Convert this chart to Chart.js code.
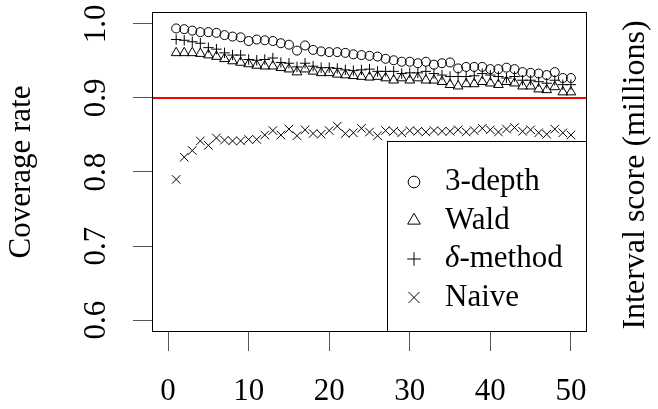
<!DOCTYPE html>
<html><head><meta charset="utf-8">
<script src="https://cdn.jsdelivr.net/npm/chart.js@4/dist/chart.umd.min.js"></script>
<style>html,body{margin:0;padding:0;background:#fff}#wrap{width:658px;height:409px}</style>
</head><body><div id="wrap"><canvas id="c" width="658" height="409"></canvas></div>
<script>
const xValues = [1,2,3,4,5,6,7,8,9,10,11,12,13,14,15,16,17,18,19,20,21,22,23,24,25,26,27,28,29,30,31,32,33,34,35,36,37,38,39,40,41,42,43,44,45,46,47,48,49,50];
const depth3 = [0.994,0.993,0.991,0.989,0.989,0.988,0.985,0.983,0.982,0.977,0.979,0.978,0.977,0.974,0.972,0.964,0.971,0.965,0.963,0.962,0.962,0.961,0.959,0.958,0.957,0.956,0.953,0.951,0.949,0.949,0.947,0.949,0.945,0.947,0.948,0.940,0.942,0.942,0.942,0.939,0.939,0.941,0.939,0.935,0.934,0.933,0.931,0.935,0.927,0.927];
const wald = [0.961,0.961,0.961,0.960,0.958,0.956,0.953,0.950,0.948,0.946,0.944,0.943,0.943,0.941,0.939,0.935,0.939,0.936,0.934,0.934,0.932,0.931,0.930,0.929,0.928,0.929,0.927,0.924,0.927,0.924,0.927,0.924,0.924,0.922,0.918,0.916,0.919,0.919,0.922,0.920,0.918,0.922,0.920,0.916,0.916,0.912,0.911,0.915,0.908,0.908];
const deltaMethod = [0.979,0.978,0.976,0.974,0.968,0.966,0.961,0.958,0.958,0.952,0.951,0.952,0.954,0.948,0.947,0.942,0.947,0.943,0.941,0.941,0.940,0.938,0.937,0.938,0.939,0.936,0.936,0.936,0.933,0.934,0.934,0.936,0.933,0.931,0.929,0.929,0.929,0.930,0.933,0.931,0.929,0.927,0.929,0.924,0.924,0.922,0.920,0.924,0.918,0.918];
const naive = [0.790,0.820,0.829,0.842,0.836,0.846,0.843,0.842,0.842,0.844,0.844,0.850,0.856,0.850,0.858,0.849,0.857,0.852,0.851,0.856,0.862,0.852,0.853,0.859,0.854,0.849,0.856,0.855,0.853,0.856,0.855,0.854,0.856,0.855,0.855,0.857,0.854,0.856,0.859,0.857,0.854,0.858,0.860,0.855,0.857,0.853,0.851,0.858,0.853,0.850];
const seriesNames = ['3-depth', 'Wald', 'δ-method', 'Naive'];
const xTicks = [0, 10, 20, 30, 40, 50];
const yTicks = [0.6, 0.7, 0.8, 0.9, 1.0];
const targetRate = 0.9;
const yTitle = 'Coverage rate';
const y2Title = 'Interval score (millions)';

const FONT_FAMILY = '"Liberation Serif", "DejaVu Serif", serif';
const FONT_SIZE = 31;

function pts(arr) { return arr.map((v, i) => ({x: xValues[i], y: v})); }

const styles = [
  {pointStyle: 'circle', radius: 4.5},
  {pointStyle: 'triangle', radius: 5.6},
  {pointStyle: 'cross', radius: 5.2},
  {pointStyle: 'crossRot', radius: 6}
];
const seriesData = [depth3, wald, deltaMethod, naive];

const datasets = seriesData.map((arr, i) => ({
  type: 'scatter',
  label: seriesNames[i],
  data: pts(arr),
  pointStyle: styles[i].pointStyle,
  pointRadius: styles[i].radius,
  pointHoverRadius: styles[i].radius,
  pointBorderColor: '#000',
  pointBackgroundColor: 'rgba(0,0,0,0)',
  pointBorderWidth: 1,
  borderColor: '#000',
  showLine: false
}));
datasets.push({
  type: 'line',
  label: 'target',
  data: [{x: -2, y: targetRate}, {x: 52, y: targetRate}],
  borderColor: '#ff0000',
  borderWidth: 2,
  pointRadius: 0,
  fill: false
});

function drawSymbol(ctx, style, r, x, y) {
  if (Chart.helpers && Chart.helpers.drawPoint) {
    Chart.helpers.drawPoint(ctx, {pointStyle: style, radius: r, borderWidth: 1, rotation: 0}, x, y);
    return;
  }
  ctx.beginPath();
  if (style === 'circle') ctx.arc(x, y, r, 0, Math.PI * 2);
  ctx.stroke();
}

const framePlugin = {
  id: 'frame',
  afterDraw(chart) {
    const {ctx, chartArea: a} = chart;
    ctx.save();
    ctx.strokeStyle = '#000';
    ctx.lineWidth = 1;
    ctx.strokeRect(a.left + 0.5, a.top + 0.5, a.right - a.left - 1, a.bottom - a.top - 1);

    // legend (bottom-right, boxed)
    const w = 200, h = 191;
    const lx = a.right - w, ly = a.bottom - h;
    ctx.fillStyle = '#fff';
    ctx.fillRect(lx, ly, w, h);
    ctx.strokeRect(lx + 0.5, ly + 0.5, w - 1, h - 1);
    const ds = chart.data.datasets.slice(0, seriesNames.length);
    ds.forEach((d, i) => {
      const cy = ly + 41 + i * 38.5;
      const sx = lx + 27;
      ctx.strokeStyle = '#000';
      ctx.fillStyle = 'rgba(0,0,0,0)';
      ctx.lineWidth = 1;
      drawSymbol(ctx, d.pointStyle, d.pointRadius * 1.3, sx, cy);
      ctx.fillStyle = '#000';
      ctx.textBaseline = 'middle';
      ctx.textAlign = 'left';
      let tx = lx + 58;
      let label = d.label;
      if (label.startsWith('δ')) {
        ctx.font = 'italic ' + FONT_SIZE + 'px ' + FONT_FAMILY;
        ctx.fillText('δ', tx, cy);
        tx += ctx.measureText('δ').width;
        label = label.slice(1);
      }
      ctx.font = FONT_SIZE + 'px ' + FONT_FAMILY;
      ctx.fillText(label, tx, cy);
    });

    // right-side axis title
    ctx.save();
    ctx.translate(chart.width - 22, (a.top + a.bottom) / 2 + 3);
    ctx.rotate(-Math.PI / 2);
    ctx.font = (FONT_SIZE + 1) + 'px ' + FONT_FAMILY;
    ctx.fillStyle = '#000';
    ctx.textAlign = 'center';
    ctx.textBaseline = 'middle';
    ctx.fillText(y2Title, 0, 0);
    ctx.restore();
    ctx.restore();
  }
};

new Chart(document.getElementById('c'), {
  data: {datasets},
  options: {
    responsive: false,
    animation: false,
    devicePixelRatio: 1,
    layout: {padding: {top: 12, right: 71, left: 0, bottom: 0}},
    plugins: {legend: {display: false}, tooltip: {enabled: false}},
    scales: {
      x: {
        type: 'linear',
        position: 'bottom',
        min: -2, max: 52,
        afterBuildTicks: s => { s.ticks = xTicks.map(v => ({value: v})); },
        afterFit: s => { s.height = 77; s.paddingLeft = 0; s.paddingRight = 0; },
        border: {display: false},
        grid: {display: true, drawOnChartArea: false, drawTicks: true, tickLength: 19, color: '#555', lineWidth: 1},
        ticks: {color: '#000', font: {family: FONT_FAMILY, size: FONT_SIZE}, padding: 22, maxRotation: 0, callback: v => String(v)}
      },
      y: {
        type: 'linear',
        position: 'left',
        min: 0.5838, max: 1.0162,
        afterBuildTicks: s => { s.ticks = yTicks.map(v => ({value: v})); },
        afterFit: s => { s.width = 152; s.paddingTop = 0; s.paddingBottom = 0; },
        border: {display: false},
        grid: {display: true, drawOnChartArea: false, drawTicks: true, tickLength: 19, color: '#555', lineWidth: 1},
        ticks: {color: '#000', font: {family: FONT_FAMILY, size: FONT_SIZE}, padding: 17, minRotation: 90, maxRotation: 90, crossAlign: 'center', callback: v => v.toFixed(1)},
        title: {display: true, text: yTitle, color: '#000', font: {family: FONT_FAMILY, size: FONT_SIZE}, padding: {top: 3, bottom: 0}}
      }
    }
  },
  plugins: [framePlugin]
});
</script>
</body></html>
